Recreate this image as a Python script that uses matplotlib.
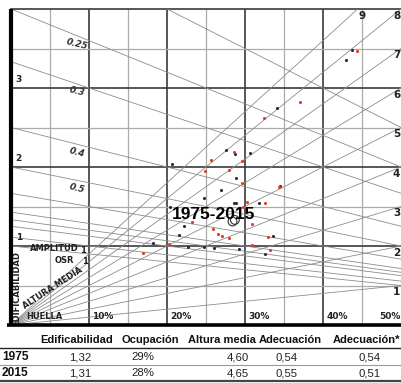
import matplotlib
matplotlib.use("Agg")
import matplotlib.pyplot as plt
from matplotlib.lines import Line2D
import numpy as np

# ---------------- data ----------------
floors = [1, 2, 3, 4, 5, 6, 7, 8, 9]
osr_values = [0.2, 0.25, 0.3, 0.4, 0.5, 0.6, 0.7, 0.75, 0.8, 0.9, 1.0]
osr_labels = ["0.25", "0.3", "0.4", "0.5"]
osr_label_values = [0.25, 0.3, 0.4, 0.5]
gsi_ticks = [0.1, 0.2, 0.3, 0.4, 0.5]
gsi_tick_labels = ["10%", "20%", "30%", "40%", "50%"]
fsi_ticks = [1, 2, 3]
fsi_tick_labels = ["1", "2", "3"]

black_gsi = [0.437, 0.430, 0.341, 0.275, 0.287, 0.307, 0.207, 0.288, 0.345, 0.269,
             0.247, 0.286, 0.289, 0.318, 0.204, 0.222, 0.215, 0.182, 0.227, 0.247,
             0.260, 0.292, 0.336, 0.325]
black_fsi = [3.48, 3.36, 2.75, 2.215, 2.17, 2.18, 2.04, 1.86, 1.76, 1.71,
             1.61, 1.54, 1.54, 1.54, 1.49, 1.25, 1.14, 1.04, 0.984, 0.984,
             0.978, 0.968, 1.127, 0.90]
red_gsi = [0.444, 0.371, 0.324, 0.286, 0.257, 0.296, 0.249, 0.279, 0.296, 0.344,
           0.302, 0.325, 0.297, 0.232, 0.309, 0.259, 0.265, 0.270, 0.279, 0.330,
           0.202, 0.309, 0.332, 0.169]
red_fsi = [3.47, 2.82, 2.62, 2.19, 2.09, 2.07, 1.95, 1.96, 1.80, 1.75,
           1.56, 1.54, 1.50, 1.31, 1.28, 1.22, 1.15, 1.13, 1.10, 1.12,
           1.025, 1.01, 0.952, 0.908]
mean_gsi = [0.284, 0.287]
mean_fsi = [1.31, 1.33]
period_label = "1975-2015"

table_header = ["Edificabilidad", "Ocupación", "Altura media", "Adecuación", "Adecuación*"]
table_years = ["1975", "2015"]
table_rows = [["1,32", "29%", "4,60", "0,54", "0,54"],
              ["1,31", "28%", "4,65", "0,55", "0,51"]]

# ---------------- figure ----------------
W, H = 401, 383
fig = plt.figure(figsize=(W / 100, H / 100), dpi=100)
ax = fig.add_axes([11 / W, 58 / H, 390 / W, 316 / H])
ax.set_xlim(0, 0.5)
ax.set_ylim(0, 4)
ax.axis("off")

DARK = "#3a3a3e"
LIGHT = "#ababab"
DIAG = "#8c8c8c"

# grid
for g in np.arange(0.05, 0.5, 0.05):
    major = abs(round(g * 10) - g * 10) < 1e-6
    ax.axvline(g, color=DARK if major else LIGHT, lw=1.2 if major else 0.9, zorder=1)
for f in np.arange(0.5, 4.0, 0.5):
    major = abs(round(f) - f) < 1e-6
    ax.axhline(f, color=DARK if major else LIGHT, lw=1.2 if major else 0.9, zorder=1)
ax.axhline(4, color=DARK, lw=1.2, zorder=1, clip_on=False)

# floors lines (FSI = L * GSI)
gx = np.linspace(0, 0.5, 200)
for L in floors:
    ax.plot(gx, L * gx, color=DIAG, lw=0.6, zorder=2)
# OSR lines (FSI = (1 - GSI) / OSR)
for o in osr_values:
    ax.plot(gx, (1 - gx) / o, color=DIAG, lw=0.6, zorder=2)

# borders
ax.plot([0, 0], [0, 4], color="black", lw=3, clip_on=False, zorder=5, solid_capstyle="butt")
ax.plot([-0.005, 0.5], [0, 0], color="black", lw=2.6, clip_on=False, zorder=5, solid_capstyle="butt")

def px(x, y):
    """pixel -> figure fraction"""
    return x / W, 1 - y / H

bold = dict(fontweight="bold", color="#222222", family="DejaVu Sans")

# floor labels on right side
for L in floors:
    if L * 0.5 <= 4:
        ax.text(0.499, L * 0.5 - 0.02, str(L), ha="right", va="top", fontsize=7.5, **bold)
    else:
        ax.text(4 / L + 0.001, 3.98, str(L), ha="left", va="top", fontsize=7.5, **bold)

# GSI tick labels
for g, lab in zip(gsi_ticks, gsi_tick_labels):
    if g < 0.5:
        ax.text(g + 0.004, 0.05, lab, ha="left", va="bottom", fontsize=6.5, **bold)
    else:
        ax.text(0.499, 0.05, lab, ha="right", va="bottom", fontsize=6.5, **bold)

# FSI tick labels
for f, lab in zip(fsi_ticks, fsi_tick_labels):
    ax.text(0.006, f + 0.05, lab, ha="left", va="bottom", fontsize=6.5, **bold)

# OSR labels
for o, lab in zip(osr_label_values, osr_labels):
    g = 0.085
    ax.text(g, (1 - g) / o - 0.02, lab, ha="center", va="top", fontsize=6.5,
            rotation=-14, style="italic", fontweight="bold", color="#333333",
            family="DejaVu Sans")

# axis-name labels
ax.text(0.024, 1.02, "AMPLITUD", ha="left", va="top", fontsize=6, **bold)
ax.text(0.089, 1.0, "1", ha="left", va="top", fontsize=6, **bold)
ax.text(0.056, 0.87, "OSR", ha="left", va="top", fontsize=6, **bold)
ax.text(0.091, 0.86, "1", ha="left", va="top", fontsize=6, **bold)
ax.text(0.053, 0.47, "ALTURA MEDIA", ha="center", va="center", fontsize=6,
        rotation=33, **bold)
ax.text(0.007, 0.46, "EDIFICABILIDAD", ha="center", va="center", fontsize=6,
        rotation=90, **bold)
ax.text(0.02, 0.05, "HUELLA", ha="left", va="bottom", fontsize=6, **bold)

# data points
ax.scatter(black_gsi, black_fsi, s=5, color="#2a2c3e", zorder=6, linewidths=0)
ax.scatter(red_gsi, red_fsi, s=5, color="#e23b26", zorder=6, linewidths=0)

# means
for g, f in zip(mean_gsi, mean_fsi):
    ax.scatter([g], [f], s=40, facecolors="none", edgecolors="#333333",
               linewidths=0.8, zorder=7)

ax.text(0.206, 1.3, period_label, ha="left", va="bottom", fontsize=12.5,
        fontweight="bold", color="black", family="Liberation Sans", zorder=8)

# ---------------- table ----------------
tf = "Liberation Sans"
head_pos = [(77, "center"), (150, "center"), (222, "center"), (290, "center"), (400, "right")]
val_x = [80, 143, 238, 287, 370]
for (x, ha), h in zip(head_pos, table_header):
    fig.text(*px(x, 340), h, ha=ha, va="center", fontsize=8,
             fontweight="bold", family=tf, color="#111111")
row_y = [357, 373]
for y, yr, row in zip(row_y, table_years, table_rows):
    fig.text(*px(2, y), yr, ha="left", va="center", fontsize=8.6,
             fontweight="bold", family=tf, color="#111111")
    for x, v in zip(val_x, row):
        fig.text(*px(x, y), v, ha="center", va="center", fontsize=8.2,
                 family=tf, color="#222222")

for y, c, lw in [(348, "#222222", 1.0), (365, "#999999", 0.8), (381, "#444444", 1.6)]:
    fig.add_artist(Line2D([0, 1], [1 - y / H, 1 - y / H], color=c, lw=lw,
                          transform=fig.transFigure))

fig.savefig("out.png", dpi=100)
